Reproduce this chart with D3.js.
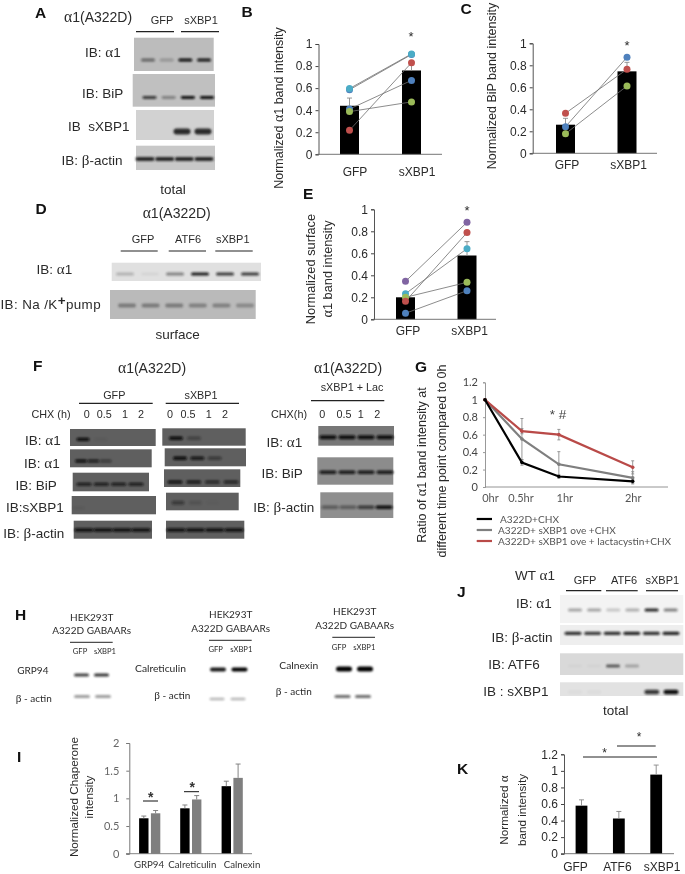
<!DOCTYPE html>
<html><head><meta charset="utf-8">
<script src="https://cdn.jsdelivr.net/npm/d3@7"></script>
<style>html,body{margin:0;padding:0;background:#fff}svg{display:block;filter:blur(0.35px)}</style>
</head><body><div id="c"></div>
<script>
// ---------- DATA ----------
const twoCats = ["GFP", "sXBP1"];
const threeCats = ["GFP", "ATF6", "sXBP1"];
const unitTicks = [0, 0.2, 0.4, 0.6, 0.8, 1];

// Panel B
const bMeans = [0.44, 0.76], bErrTop = [0.51, 0.83];
const bTeal = [0.596, 0.91], bPurple = [0.585, 0.905], bBlue = [0.41, 0.67], bGreen = [0.387, 0.475], bRed = [0.218, 0.83];
// Panel C
const cMeans = [0.26, 0.745], cErrTop = [0.318, 0.827];
const cRed = [0.364, 0.764], cBlue = [0.242, 0.873], cGreen = [0.178, 0.612];
// Panel E
const eMeans = [0.2, 0.58], eErrTop = [0.235, 0.706];
const ePurple = [0.345, 0.882], eTeal = [0.233, 0.642], eGreen = [0.2, 0.336], eRed = [0.164, 0.788], eBlue = [0.055, 0.26];
// Panel G
const gHours = [0, 0.5, 1, 2];
const gHourLabels = ["0hr", "0.5hr", "1hr", "2hr"];
const gTicks = [0, 0.2, 0.4, 0.6, 0.8, 1, 1.2];
const gBlack = [1, 0.28, 0.12, 0.065];
const gGrey = [1, 0.55, 0.26, 0.105];
const gRed = [1, 0.64, 0.6, 0.225];
const gBlackErr = [0, 0.03, 0.02, 0.02];
const gGreyErr = [0, 0.235, 0.145, 0.07];
const gRedErr = [0, 0.03, 0.06, 0.075];
const gLegend = ["A322D+CHX", "A322D+ sXBP1 ove +CHX", "A322D+ sXBP1 ove + lactacystin+CHX"];
// Panel I
const iCats = ["GRP94", "Calreticulin", "Calnexin"];
const iTicks = [0, 0.5, 1, 1.5, 2];
const iGfp = [0.64, 0.82, 1.22], iGfpTop = [0.68, 0.88, 1.31];
const iXbp = [0.73, 0.98, 1.37], iXbpTop = [0.78, 1.05, 1.62];
// Panel K
const kMeans = [0.58, 0.425, 0.955], kErrTop = [0.65, 0.51, 1.07];
const kTicks = [0, 0.2, 0.4, 0.6, 0.8, 1, 1.2];
// Blot band intensities, lane by lane
const aAlpha = [0.5, 0.22, 1, 0.95], aBip = [0.75, 0.35, 1, 1], aXbp = [0, 0, 1, 1], aActin = [1, 1, 1, 1];
const dAlpha = [0.22, 0.05, 0.45, 0.95, 0.8, 0.8], dPump = [0.42, 0.42, 0.42, 0.38, 0.38, 0.32];
const fGA1 = [1, 0.06, 0, 0], fGA2 = [1, 0.8, 0.45, 0], fGBip = [0.85, 0.85, 0.85, 0.85], fGXbp = [0, 0.08, 0, 0], fGAct = [1, 1, 1, 1];
const fXA1 = [1, 0.35, 0, 0], fXA2 = [1, 0.85, 0.45, 0], fXBip = [1, 0.9, 0.7, 0.75], fXXbp = [0.45, 0.15, 0.03, 0], fXAct = [1, 1, 1, 1];
const fLA1 = [1, 1, 1, 1], fLBip = [0.9, 0.9, 0.9, 0.9], fLAct = [0.4, 0.4, 0.65, 1];
const hGrp = [0.8, 0.85], hGrpAct = [0.4, 0.4], hCal = [0.9, 1], hCalAct = [0.3, 0.3], hCnx = [1, 1], hCnxAct = [0.6, 0.6];
const jAlpha = [0.35, 0.35, 0.2, 0.3, 0.9, 0.5], jActin = [0.85, 0.8, 0.85, 0.9, 0.85, 0.9], jAtf = [0.03, 0.03, 0.7, 0.3, 0, 0], jXbp = [0.02, 0.02, 0, 0, 0.8, 1];

// ---------- SETUP ----------
const C = {teal:"#4bacc6", blue:"#4f81bd", green:"#9bbb59", red:"#c0504d", purple:"#8064a2"};
const ARIAL = "'Liberation Sans',Arial,sans-serif", LATO = "Lato,Carlito,sans-serif";
const svg = d3.select("#c").append("svg").attr("width",685).attr("height",874).style("font-family",ARIAL);
const defs = svg.append("defs");
[["b1",0.8],["b2",1.6],["b05",0.5]].forEach(([id,s])=>{
  defs.append("filter").attr("id",id).attr("x","-30%").attr("y","-200%").attr("width","160%").attr("height","500%")
    .append("feGaussianBlur").attr("stdDeviation",s);
});

function txt(x,y,s,o={}){
  const t = svg.append("text").attr("x",x).attr("y",y)
    .attr("font-size",o.size||13.5).attr("fill",o.fill||"#2a2a2a").attr("text-anchor",o.anchor||"start")
    .attr("font-family",o.font||ARIAL).attr("font-weight",o.weight||"normal").attr("xml:space","preserve").style("white-space","pre");
  if(o.rot) t.attr("transform",`rotate(-90 ${x} ${y})`);
  s.split(/([αβ])/).forEach(p=>{
    if(!p) return;
    const ts=t.append("tspan").text(p);
    if(p==="α"||p==="β") ts.attr("font-family","'Liberation Serif',serif").attr("font-size",(o.size||13.5)*1.12);
  });
  return t;
}
function rule(x1,x2,y,w=1.2,col="#222"){svg.append("line").attr("x1",x1).attr("x2",x2).attr("y1",y).attr("y2",y).attr("stroke",col).attr("stroke-width",w);}
function letter(x,y,s){txt(x,y,s,{size:15.5,weight:"bold",fill:"#111"});}

// blot: background rectangle with blurred bands
function blot(o){
  if(o.bg) svg.append("rect").attr("x",o.x).attr("y",o.y).attr("width",o.w).attr("height",o.h).attr("fill",o.bg);
  const lane = d3.scalePoint().domain(d3.range(o.vals.length)).range(o.lanes);
  const op = d3.scaleLinear().domain([0,1]).range([0,o.max||1]);
  svg.append("g").selectAll("rect").data(o.vals).join("rect")
    .attr("x",(d,i)=>lane(i)-o.bw/2).attr("width",o.bw)
    .attr("y",o.by-o.bh/2).attr("height",o.bh).attr("rx",o.bh/2)
    .attr("fill",o.col||"#0c0c0c").attr("opacity",d=>op(d))
    .attr("filter",`url(#${o.blur||"b1"})`);
}

// bar + paired dot panels
function pairPanel(o){
  const y=d3.scaleLinear().domain([0,1]).range([o.y0,o.y1]);
  const x=d3.scalePoint().domain(twoCats).range(o.xs);
  const g=svg.append("g");
  g.selectAll(".bar").data(o.means).join("rect").attr("x",(d,i)=>x(twoCats[i])-9.5).attr("width",19)
    .attr("y",d=>y(d)).attr("height",d=>o.y0-y(d)).attr("fill","#000");
  g.selectAll(".err").data(o.err).join("path").attr("fill","none").attr("stroke","#8a8a8a").attr("stroke-width",.9)
    .attr("d",(d,i)=>{const c=x(twoCats[i]);return `M${c},${y(o.means[i])}V${y(d)}M${c-2.5},${y(d)}H${c+2.5}`;});
  const line=d3.line().x((d,i)=>x(twoCats[i])).y(d=>y(d));
  o.pairs.forEach(([vals])=>g.append("path").attr("d",line(vals)).attr("fill","none").attr("stroke","#6f6f6f").attr("stroke-width",.8));
  o.pairs.forEach(([vals,col])=>g.selectAll(null).data(vals).join("circle")
    .attr("cx",(d,i)=>x(twoCats[i])).attr("cy",d=>y(d)).attr("r",3.5).attr("fill",col));
  const ax=svg.append("g").attr("transform",`translate(${o.ax},0)`).call(d3.axisLeft(y).tickValues(unitTicks).tickSize(3).tickPadding(3).tickFormat(d3.format("~g")));
  ax.select(".domain").attr("stroke","#555");ax.selectAll("line").attr("stroke","#444");
  ax.selectAll("text").attr("font-size",12).attr("font-family",ARIAL).attr("fill","#2a2a2a");
  rule(o.ax-1,o.xEnd,o.y0,.9,"#666");
  const bx=svg.append("g").attr("transform",`translate(0,${o.y0})`).call(d3.axisBottom(x).tickSize(0).tickPadding(o.labPad));
  bx.select(".domain").remove();
  bx.selectAll("text").attr("font-size",12).attr("font-family",ARIAL).attr("fill","#2a2a2a").attr("dx",o.labDx);
  txt(o.star[0],o.star[1],"*",{size:13,anchor:"middle"});
}

// ---------- PANEL A ----------
letter(35,17.5,"A");
txt(64,22,"α1(A322D)",{size:14});
txt(162,24,"GFP",{size:11,anchor:"middle"});txt(201,24,"sXBP1",{size:11,anchor:"middle"});
rule(136,174,31.7);rule(181,219,31.7);
txt(85,57,"IB: α1");txt(82,97.5,"IB: BiP");txt(68,131,"IB  sXBP1");txt(61.5,165,"IB: β-actin");
txt(173,194,"total",{anchor:"middle"});
blot({x:134,y:37.7,w:79.7,h:33.3,bg:"#bcbcbc",vals:aAlpha,lanes:[148,204],by:60,bw:14,bh:3});
blot({x:132.7,y:74,w:82.3,h:32.7,bg:"#c0c0c0",vals:aBip,lanes:[149.5,207],by:97.5,bw:14,bh:2.8});
blot({x:136,y:110,w:78,h:30,bg:"#d2d2d2",vals:aXbp,lanes:[140,203],by:131.5,bw:17,bh:6,col:"#2a2a2a"});
blot({x:136,y:145.7,w:79,h:24.3,bg:"#c8c8c8",vals:aActin,lanes:[145,204],by:159,bw:19,bh:4,col:"#2a2a2a"});

// ---------- PANEL B ----------
letter(241.5,17,"B");
pairPanel({y0:154.3,y1:44,xs:[349.5,411.5],ax:318.5,xEnd:442,means:bMeans,err:bErrTop,
  pairs:[[bPurple,C.blue],[bTeal,C.teal],[bBlue,C.blue],[bGreen,C.green],[bRed,C.red]],labPad:13,labDx:5,star:[411,41]});
txt(283,108,"Normalized α1 band intensity",{rot:1,anchor:"middle",size:12.5});

// ---------- PANEL C ----------
letter(460.5,14,"C");
pairPanel({y0:153.3,y1:43.3,xs:[565.5,627],ax:532.7,xEnd:657,means:cMeans,err:cErrTop,
  pairs:[[cRed,C.red],[cBlue,C.blue],[cGreen,C.green]],labPad:7,labDx:1,star:[627,50]});
txt(496,86,"Normalized BiP band intensity",{rot:1,anchor:"middle",size:12.5});

// ---------- PANEL D ----------
letter(35.5,214,"D");
txt(176.7,218,"α1(A322D)",{size:14,anchor:"middle"});
txt(143,243,"GFP",{size:11,anchor:"middle"});txt(188,243,"ATF6",{size:11,anchor:"middle"});txt(232.7,243,"sXBP1",{size:11,anchor:"middle"});
rule(120.7,157.7,251);rule(168.7,206,251);rule(215.3,252.7,251);
txt(36.5,274,"IB: α1");
txt(0.5,309,"IB: Na /K",{size:13.4}).attr("letter-spacing",0.4)
  .call(t=>{t.append("tspan").text("+").attr("dy",-4).attr("font-weight","bold");t.append("tspan").text("pump").attr("dy",4);});
txt(177.7,339,"surface",{anchor:"middle"});
blot({x:111.7,y:262.7,w:149.3,h:18.3,bg:"#e0e0e0",vals:dAlpha,lanes:[125,250],by:274,bw:18,bh:3.2,col:"#111"});
blot({x:110,y:290,w:145.7,h:29,bg:"#bababa",vals:dPump,lanes:[127,245],by:305.5,bw:18,bh:4,col:"#222"});

// ---------- PANEL E ----------
letter(303,199,"E");
pairPanel({y0:319.3,y1:209.3,xs:[405.5,467],ax:374,xEnd:496,means:eMeans,err:eErrTop,
  pairs:[[ePurple,C.purple],[eTeal,C.teal],[eGreen,C.green],[eRed,C.red],[eBlue,C.blue]],labPad:7,labDx:2,star:[467,214.5]});
txt(315,269,"Normalized surface",{rot:1,anchor:"middle",size:12.8});
txt(331.5,269,"α1 band intensity",{rot:1,anchor:"middle",size:12.8});

// ---------- PANEL F ----------
letter(33,371,"F");
txt(152,373,"α1(A322D)",{size:14,anchor:"middle"});txt(348,373,"α1(A322D)",{size:14,anchor:"middle"});
txt(114.3,399,"GFP",{size:10.8,anchor:"middle"});txt(201,399,"sXBP1",{size:10.8,anchor:"middle"});txt(352,391,"sXBP1 + Lac",{size:10.8,anchor:"middle"});
rule(79,152.7,403.3);rule(165.7,239,403.3);rule(311,384.3,400.7);
txt(31.5,417.5,"CHX (h)",{size:10.8});txt(271,417.5,"CHX(h)",{size:10.8});
const chxLabels=["0","0.5","1","2"];
[[86.7,104.3,125,141],[170,188,208.7,225],[322.3,344,360.7,377.3]].forEach(xs=>xs.forEach((x,i)=>txt(x,417.5,chxLabels[i],{size:10.8,anchor:"middle"})));
txt(25,445,"IB: α1");txt(24,467.7,"IB: α1");txt(15.5,490,"IB: BiP");txt(6,511.5,"IB:sXBP1");txt(3.3,538,"IB: β-actin");
txt(266.5,446.7,"IB: α1");txt(261.5,478.3,"IB: BiP");txt(253.3,512.3,"IB: β-actin");
const dark="#5f5f5f";
blot({x:70,y:429,w:85.7,h:17,bg:dark,vals:fGA1,lanes:[83,136],by:439.3,bw:13,bh:3.2});
blot({x:70,y:449.3,w:81.7,h:18,bg:dark,vals:fGA2,lanes:[81,118],by:461,bw:12,bh:3.2});
blot({x:72.7,y:472.7,w:76.3,h:18.6,bg:dark,vals:fGBip,lanes:[84,136],by:484.3,bw:15,bh:3});
blot({x:71.7,y:496,w:84.3,h:18.3,bg:dark,vals:fGXbp,lanes:[72,92],by:508,bw:12,bh:2.5});
blot({x:73.7,y:520.7,w:78.3,h:18,bg:dark,vals:fGAct,lanes:[84,141],by:530,bw:19,bh:3.4});
blot({x:162.3,y:428.3,w:83.4,h:17.4,bg:dark,vals:fXA1,lanes:[176,230],by:438.3,bw:14,bh:3.4});
blot({x:164.7,y:448.3,w:81.3,h:18,bg:dark,vals:fXA2,lanes:[180,232],by:458.3,bw:14,bh:3.4});
blot({x:164,y:469.3,w:76.3,h:17.7,bg:dark,vals:fXBip,lanes:[175,231],by:482,bw:15,bh:3.2});
blot({x:166,y:492.7,w:72.7,h:17.6,bg:dark,vals:fXXbp,lanes:[178,230],by:502.7,bw:13,bh:4});
blot({x:166,y:520.7,w:78.3,h:18,bg:dark,vals:fXAct,lanes:[176,234],by:530,bw:19,bh:3.4});
blot({x:318.3,y:426,w:75.7,h:19.7,bg:"#777",vals:fLA1,lanes:[328,385],by:437.3,bw:17,bh:4});
blot({x:317.3,y:457.3,w:76,h:27.4,bg:"#8c8c8c",vals:fLBip,lanes:[328,385],by:472.3,bw:17,bh:3.4});
blot({x:320.3,y:492.3,w:73,h:25.7,bg:"#8f8f8f",vals:fLAct,lanes:[330,384],by:507.3,bw:17,bh:3.6});

// ---------- PANEL G ----------
letter(415,372,"G");
(function(){
  const x=d3.scaleLinear().domain([0,2]).range([485,632.7]);
  const y=d3.scaleLinear().domain([0,1.2]).range([487,382.3]);
  const ax=svg.append("g").attr("transform","translate(485,0)").call(d3.axisLeft(y).tickValues(gTicks).tickSize(2).tickPadding(5).tickFormat(d3.format("~g")));
  ax.select(".domain").attr("stroke","#999");ax.selectAll("line").attr("stroke","#999");
  ax.selectAll("text").attr("font-family",LATO).attr("font-size",11).attr("fill","#444");
  rule(485,668,487,.9,"#888");
  const bx=svg.append("g").attr("transform","translate(0,487)").call(d3.axisBottom(x).tickValues(gHours).tickSize(0).tickPadding(7).tickFormat((d,i)=>gHourLabels[i]));
  bx.select(".domain").remove();
  const dxs=[5,-1.5,5.5,0];
  bx.selectAll("text").attr("font-family",LATO).attr("font-size",11).attr("fill","#555").attr("dx",(d,i)=>dxs[i]);
  const series=[[gGrey,gGreyErr,"#7f7f7f"],[gRed,gRedErr,"#b94a48"],[gBlack,gBlackErr,"#000"]];
  const line=d3.line().x((d,i)=>x(gHours[i])).y(d=>y(d));
  series.forEach(([v,e])=>{
    svg.append("g").selectAll("path").data(v).join("path").attr("fill","none").attr("stroke","#8c8c8c").attr("stroke-width",.9)
      .attr("d",(d,i)=>{const c=x(gHours[i]);return `M${c},${y(d-e[i])}V${y(d+e[i])}M${c-1.5},${y(d+e[i])}H${c+1.5}M${c-1.5},${y(d-e[i])}H${c+1.5}`;});
  });
  series.forEach(([v,,col])=>{
    svg.append("path").attr("d",line(v)).attr("fill","none").attr("stroke",col).attr("stroke-width",2.2);
    svg.append("g").selectAll("circle").data(v).join("circle").attr("cx",(d,i)=>x(gHours[i])).attr("cy",d=>y(d)).attr("r",1.8).attr("fill",col);
  });
  const leg=d3.scalePoint().domain(gLegend).range([519,541]);
  const legCol=["#000","#7f7f7f","#b94a48"],legDx=[500,498,498];
  gLegend.forEach((s,i)=>{
    rule(476.7,492,leg(s),2.2,legCol[i]);
    txt(legDx[i],leg(s)+3.5,s,{font:LATO,size:10.1,fill:"#555"});
  });
  txt(558,419,"* #",{size:13.5,anchor:"middle",fill:"#444"});
})();
txt(425.7,465,"Ratio of α1 band intensity at",{rot:1,anchor:"middle",size:12.5});
txt(445.7,461,"different time point compared to 0h",{rot:1,anchor:"middle",size:12.5});

// ---------- PANEL H ----------
letter(15,620,"H");
[[91.7,620.7,634.3,70,112.7,642.3,80,105,654],[230.7,618.3,631.7,209,251.7,640.3,215.7,241.3,651.7],[354.7,615,629,332.3,375,637.3,339,364.3,650.3]].forEach(a=>{
  txt(a[0],a[1],"HEK293T",{font:LATO,size:10,anchor:"middle"});
  txt(a[0],a[2],"A322D GABAARs",{font:LATO,size:10,anchor:"middle"});
  rule(a[3],a[4],a[5],1,"#222");
  txt(a[6],a[8],"GFP",{font:LATO,size:7.6,anchor:"middle"});
  txt(a[7],a[8],"sXBP1",{font:LATO,size:7.6,anchor:"middle"});
});
txt(17.3,674.3,"GRP94",{font:LATO,size:10});txt(15.7,701.7,"β - actin",{font:LATO,size:10});
txt(135,672,"Calreticulin",{font:LATO,size:10.3});txt(154.3,699.3,"β - actin",{font:LATO,size:10});
txt(279.3,669.3,"Calnexin",{font:LATO,size:10.3});txt(275.7,695.3,"β - actin",{font:LATO,size:10});
blot({vals:hGrp,lanes:[81.5,101.5],by:675,bw:15,bh:3,col:"#111"});
blot({vals:hGrpAct,lanes:[82,103],by:696.5,bw:16,bh:3,col:"#111"});
blot({vals:hCal,lanes:[218,239.5],by:669.5,bw:16,bh:3.8,col:"#000"});
blot({vals:hCalAct,lanes:[217,238],by:699,bw:15,bh:2.6,col:"#111"});
blot({vals:hCnx,lanes:[344,365],by:669,bw:16,bh:5,col:"#000"});
blot({vals:hCnxAct,lanes:[342.5,363],by:696.5,bw:16,bh:3,col:"#111"});

// ---------- PANEL I ----------
txt(17,762,"I",{size:15.5,weight:"bold",fill:"#111"});
(function(){
  const y=d3.scaleLinear().domain([0,2]).range([853.7,743]);
  const x=d3.scaleBand().domain(iCats).range([129.3,252]).paddingOuter(0.06).paddingInner(0.2);
  const cx=i=>[149.7,190.8,232.2][i];
  const gs=[[iGfp,iGfpTop,"#000",-5.9],[iXbp,iXbpTop,"#7f7f7f",5.9]];
  gs.forEach(([v,t,col,off])=>{
    svg.append("g").selectAll("rect").data(v).join("rect").attr("x",(d,i)=>cx(i)+off-4.7).attr("width",9.4)
      .attr("y",d=>y(d)).attr("height",d=>853.7-y(d)).attr("fill",col);
    svg.append("g").selectAll("path").data(t).join("path").attr("fill","none").attr("stroke","#777").attr("stroke-width",.9)
      .attr("d",(d,i)=>{const c=cx(i)+off;return `M${c},${y(v[i])}V${y(d)}M${c-2.5},${y(d)}H${c+2.5}`;});
  });
  const ax=svg.append("g").attr("transform","translate(129.3,0)").call(d3.axisLeft(y).tickValues(iTicks).tickSize(3).tickPadding(7).tickFormat(d3.format("~g")));
  ax.select(".domain").attr("stroke","#777");ax.selectAll("line").attr("stroke","#777");
  ax.selectAll("text").attr("font-family",LATO).attr("font-size",11).attr("fill","#666");
  rule(126,252,853.7,.9,"#777");
  const bx=svg.append("g").attr("transform","translate(0,853.7)").call(d3.axisBottom(x).tickSize(0).tickPadding(7));
  bx.select(".domain").remove();
  const labX=[149,192.3,242];
  bx.selectAll("text").attr("font-family",LATO).attr("font-size",9.7).attr("fill","#333")
    .attr("dx",(d,i)=>labX[i]-(x(iCats[i])+x.bandwidth()/2));
  rule(143,158,801,1,"#111");rule(184,199,791.7,1,"#111");
  txt(150.7,801.7,"*",{size:14,anchor:"middle",weight:"bold",fill:"#333"});txt(192.3,791.7,"*",{size:14,anchor:"middle",weight:"bold",fill:"#333"});
})();
txt(78,797,"Normalized Chaperone",{rot:1,anchor:"middle",size:11.7});
txt(92.7,797,"intensity",{rot:1,anchor:"middle",size:11.7});

// ---------- PANEL J ----------
letter(457,597,"J");
txt(515,580,"WT α1",{size:13.5});
txt(585,583.5,"GFP",{size:11,anchor:"middle"});txt(624,583.5,"ATF6",{size:11,anchor:"middle"});txt(662.3,583.5,"sXBP1",{size:11,anchor:"middle"});
rule(566,601.3,590.7);rule(606,637.7,590.7);rule(646,678,590.7);
txt(516,607.5,"IB: α1");txt(491.5,641.7,"IB: β-actin");txt(488.3,669,"IB: ATF6");txt(483.3,696,"IB : sXBP1");
txt(615.7,715,"total",{anchor:"middle"});
blot({x:560,y:595,w:123.3,h:28,bg:"#f3f3f3",vals:jAlpha,lanes:[575,670.7],by:610,bw:14,bh:3,col:"#111"});
blot({x:560,y:625,w:123.3,h:20,bg:"#eeeeee",vals:jActin,lanes:[573,671],by:633.3,bw:17,bh:3.2,col:"#111"});
blot({x:560,y:653.3,w:123.3,h:21.7,bg:"#d9d9d9",vals:jAtf,lanes:[575,670],by:666,bw:14,bh:3,col:"#222"});
blot({x:560,y:682.3,w:123.3,h:13.7,bg:"#e2e2e2",vals:jXbp,lanes:[575,671],by:692,bw:15,bh:4.6,col:"#111"});

// ---------- PANEL K ----------
letter(457,774,"K");
(function(){
  const y=d3.scaleLinear().domain([0,1.2]).range([853.7,754.3]);
  const x=d3.scalePoint().domain(threeCats).range([581.5,656.2]);
  svg.append("g").selectAll("rect").data(kMeans).join("rect").attr("x",(d,i)=>x(threeCats[i])-5.9).attr("width",11.8)
    .attr("y",d=>y(d)).attr("height",d=>853.7-y(d)).attr("fill","#000");
  svg.append("g").selectAll("path").data(kErrTop).join("path").attr("fill","none").attr("stroke","#888").attr("stroke-width",.9)
    .attr("d",(d,i)=>{const c=x(threeCats[i]);return `M${c},${y(kMeans[i])}V${y(d)}M${c-2.5},${y(d)}H${c+2.5}`;});
  const ax=svg.append("g").attr("transform","translate(564,0)").call(d3.axisLeft(y).tickValues(kTicks).tickSize(3).tickPadding(3).tickFormat(d3.format("~g")));
  ax.select(".domain").attr("stroke","#555");ax.selectAll("line").attr("stroke","#444");
  ax.selectAll("text").attr("font-family",ARIAL).attr("font-size",12).attr("fill","#2a2a2a");
  rule(561,674,853.7,.9,"#666");
  const bx=svg.append("g").attr("transform","translate(0,853.7)").call(d3.axisBottom(x).tickSize(0).tickPadding(9));
  bx.select(".domain").remove();
  const dx=[-6.5,-2,5.5];
  bx.selectAll("text").attr("font-family",ARIAL).attr("font-size",12).attr("fill","#2a2a2a").attr("dx",(d,i)=>dx[i]);
  rule(583,657,757,1,"#222");rule(617,655.7,746,1,"#222");
  txt(604.7,756.5,"*",{size:12,anchor:"middle"});txt(639,740.5,"*",{size:12,anchor:"middle"});
})();
txt(508,810,"Normalized α",{rot:1,anchor:"middle",size:11.7});
txt(526,810,"band intensity",{rot:1,anchor:"middle",size:11.7});
</script></body></html>
